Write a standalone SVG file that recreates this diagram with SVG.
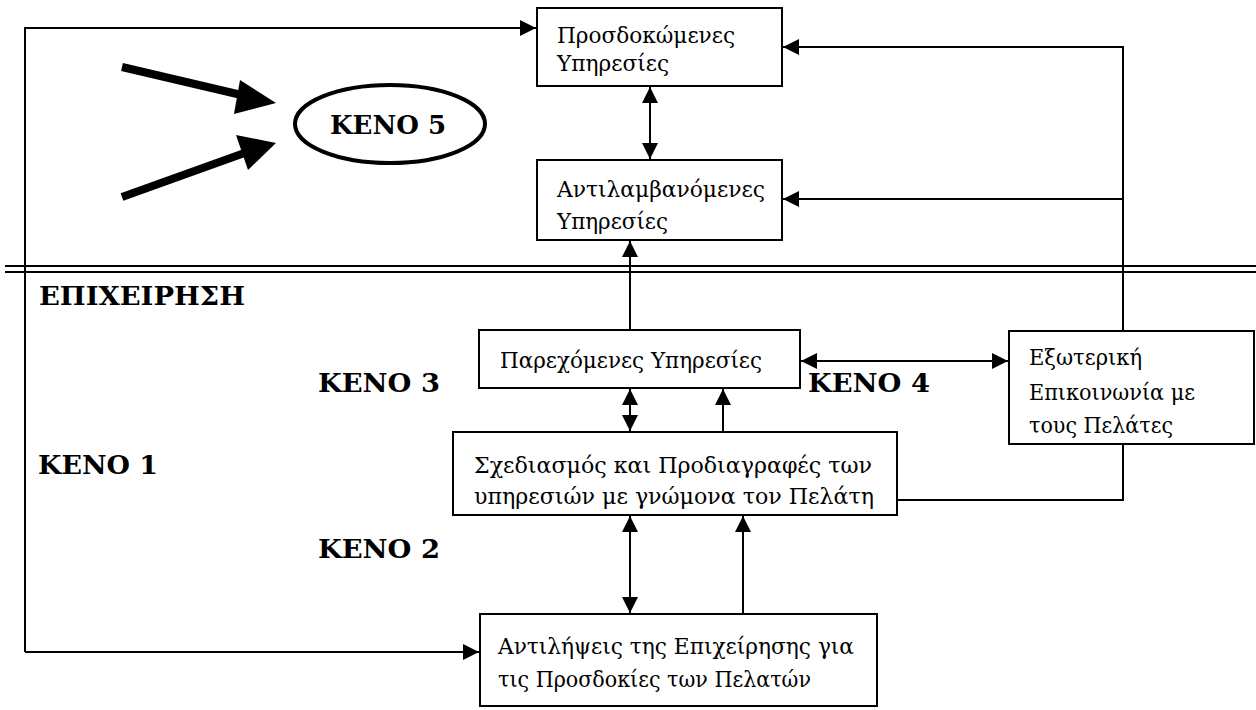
<svg xmlns="http://www.w3.org/2000/svg" width="1256" height="710" viewBox="0 0 1256 710">
<style>
.box{fill:#fff;stroke:#000;stroke-width:2}
.t{font-family:"DejaVu Serif","Liberation Serif",serif;font-size:22px;fill:#000}
.b{font-family:"DejaVu Serif","Liberation Serif",serif;font-size:26px;font-weight:bold;fill:#000}
.ln{fill:none;stroke:#000;stroke-width:2}
.one{marker-end:url(#ah)}
.two{marker-start:url(#ah);marker-end:url(#ah)}
</style>
<defs>
<marker id="ah" viewBox="0 0 10 10" refX="10" refY="5" markerUnits="userSpaceOnUse" markerWidth="18" markerHeight="16" orient="auto-start-reverse">
<path d="M0,0 L10,5 L0,10 z" fill="#000"/>
</marker>
</defs>
<rect width="1256" height="710" fill="#fff"/>
<g id="divider">
<line x1="5" y1="266" x2="1256" y2="266" stroke="#000" stroke-width="2"/>
<line x1="5" y1="272" x2="1256" y2="272" stroke="#000" stroke-width="2"/>
</g>
<g id="connectors">
<path class="ln one" d="M25,652 L25,28 L536,28"/>
<path class="ln one" d="M25,652 L479,652"/>
<path class="ln two" d="M650,87 L650,159"/>
<path class="ln one" d="M630,330 L630,241"/>
<path class="ln one" d="M1123,331 L1123,47 L783,47"/>
<path class="ln one" d="M1123,199 L783,199"/>
<path class="ln two" d="M801,361 L1008,361"/>
<path class="ln two" d="M630,389 L630,431"/>
<path class="ln one" d="M723,432 L723,389"/>
<path class="ln" d="M897,500 L1123,500 L1123,444"/>
<path class="ln two" d="M630,516 L630,613"/>
<path class="ln one" d="M743,614 L743,516"/>
</g>
<g id="gap5-arrows">
<line x1="122" y1="67" x2="250" y2="97" stroke="#000" stroke-width="8"/>
<polygon points="276,103 240,80 234,114" fill="#000"/>
<line x1="122" y1="197" x2="250" y2="151" stroke="#000" stroke-width="8"/>
<polygon points="276,143 236,135 248,170" fill="#000"/>
</g>
<g id="keno5">
<ellipse cx="390" cy="124" rx="95" ry="39" fill="#fff" stroke="#000" stroke-width="4"/>
<text class="b" x="330" y="134" textLength="116" lengthAdjust="spacingAndGlyphs">KENO 5</text>
</g>
<g id="expected">
<rect class="box" x="537" y="8" width="245" height="78"/>
<text class="t" x="557" y="43" textLength="178" lengthAdjust="spacingAndGlyphs">Προσδοκώμενες</text>
<text class="t" x="557" y="71" textLength="112" lengthAdjust="spacingAndGlyphs">Υπηρεσίες</text>
</g>
<g id="perceived">
<rect class="box" x="537" y="160" width="245" height="80"/>
<text class="t" x="557" y="197" textLength="208" lengthAdjust="spacingAndGlyphs">Αντιλαμβανόμενες</text>
<text class="t" x="557" y="229" textLength="111" lengthAdjust="spacingAndGlyphs">Υπηρεσίες</text>
</g>
<g id="delivered">
<rect class="box" x="479" y="330" width="321" height="58"/>
<text class="t" x="500" y="368" textLength="262" lengthAdjust="spacingAndGlyphs">Παρεχόμενες Υπηρεσίες</text>
</g>
<g id="external">
<rect class="box" x="1009" y="331" width="245" height="113"/>
<text class="t" x="1029" y="365" textLength="113" lengthAdjust="spacingAndGlyphs">Εξωτερική</text>
<text class="t" x="1029" y="400" textLength="166" lengthAdjust="spacingAndGlyphs">Επικοινωνία με</text>
<text class="t" x="1029" y="433" textLength="144" lengthAdjust="spacingAndGlyphs">τους Πελάτες</text>
</g>
<g id="design">
<rect class="box" x="453" y="432" width="444" height="83"/>
<text class="t" x="474" y="473" textLength="398" lengthAdjust="spacingAndGlyphs">Σχεδιασμός και Προδιαγραφές των</text>
<text class="t" x="474" y="504" textLength="400" lengthAdjust="spacingAndGlyphs">υπηρεσιών με γνώμονα τον Πελάτη</text>
</g>
<g id="management">
<rect class="box" x="480" y="614" width="397" height="92"/>
<text class="t" x="498" y="654" textLength="356" lengthAdjust="spacingAndGlyphs">Αντιλήψεις της Επιχείρησης για</text>
<text class="t" x="498" y="687" textLength="313" lengthAdjust="spacingAndGlyphs">τις Προσδοκίες των Πελατών</text>
</g>
<g id="labels">
<text class="b" x="39" y="305" font-size="23" textLength="206" lengthAdjust="spacingAndGlyphs">ΕΠΙΧΕΙΡΗΣΗ</text>
<text class="b" x="318" y="392" textLength="122" lengthAdjust="spacingAndGlyphs">KENO 3</text>
<text class="b" x="808" y="392" textLength="122" lengthAdjust="spacingAndGlyphs">KENO 4</text>
<text class="b" x="38" y="474" textLength="120" lengthAdjust="spacingAndGlyphs">KENO 1</text>
<text class="b" x="318" y="558" textLength="122" lengthAdjust="spacingAndGlyphs">KENO 2</text>
</g>
</svg>
